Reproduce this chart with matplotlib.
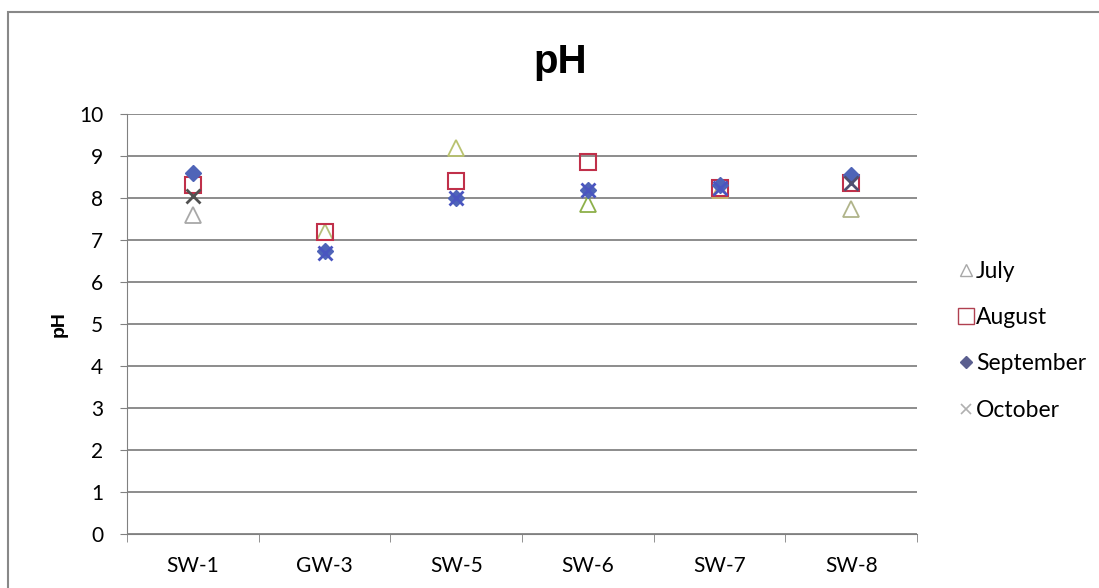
import matplotlib.pyplot as plt
from matplotlib.patches import Rectangle

# ── dados ─────────────────────────────────────────────
sites = ["SW-1", "GW-3", "SW-5", "SW-6", "SW-7", "SW-8"]
july = [7.6, 7.2, 9.2, 7.85, 8.2, 7.75]
august = [8.3, 7.2, 8.4, 8.85, 8.25, 8.35]
september = [8.6, 6.75, 8.0, 8.2, 8.3, 8.55]
october = [8.05, 6.7, 8.0, 8.2, 8.25, 8.35]

# cores por ponto (Excel "variar cores")
july_colors = ["#a8a8a8", "#b5bf7a", "#b9c26f", "#8db04a", "#c8b56a", "#b0b48a"]
october_colors = ["#505050", "#4a55c0", "#4a55c0", "#4a55c0", "#4a55c0", "#505070"]

plt.rcParams["font.family"] = ["Lato", "DejaVu Sans"]

fig = plt.figure(figsize=(10.99, 5.88), dpi=100)
ax = fig.add_axes([127 / 1099, 1 - 534 / 588, 790 / 1099, 420 / 588])

x = list(range(len(sites)))

for i, xi in enumerate(x):
    ax.plot(xi, july[i], marker="^", ms=12, mfc="none", mec=july_colors[i],
            mew=1.3, ls="none", zorder=3)
ax.plot(x, august, marker="s", ms=12, mfc="none", mec="#c0304a", mew=1.5,
        ls="none", zorder=4)
ax.plot(x, september, marker="D", ms=8.5, mfc="#4f64b8", mec="#4f64b8",
        ls="none", zorder=5)
for i, xi in enumerate(x):
    ax.plot(xi, october[i], marker="x", ms=10, mec=october_colors[i], mew=2,
            ls="none", zorder=6)

# legenda (alças manuais)
h1, = ax.plot([], [], marker="^", ms=9, mfc="none", mec="#a8a8a8", mew=1, ls="none")
h2, = ax.plot([], [], marker="s", ms=12, mfc="none", mec="#b04050", mew=1, ls="none")
h3, = ax.plot([], [], marker="D", ms=6, mfc="#5b5f8f", mec="#5b5f8f", ls="none")
h4, = ax.plot([], [], marker="x", ms=7, mec="#b0b0b0", mew=1.2, ls="none")
leg = ax.legend([h1, h2, h3, h4], ["July", "August", "September", "October"],
                loc="center left", bbox_to_anchor=(1.04, 0.46), frameon=False,
                fontsize=16.5, handlelength=0.7, handletextpad=0.1,
                labelspacing=1.1, borderaxespad=0)

ax.set_xlim(-0.5, 5.5)
ax.set_ylim(0, 10)
ax.set_yticks(range(0, 11))
ax.set_xticks(x)
ax.set_xticklabels(sites)
ax.set_xticks([i + 0.5 for i in range(-1, 6)], minor=True)
ax.tick_params(axis="x", which="major", length=0, labelsize=15, pad=16)
ax.tick_params(axis="x", which="minor", length=6, color="#808080", direction="out")
ax.tick_params(axis="y", length=5, color="#808080", labelsize=15, pad=12)

ax.grid(axis="y", color="#6e6e6e", lw=1.1)
ax.set_axisbelow(True)
for side in ["top", "right"]:
    ax.spines[side].set_visible(False)
ax.spines["left"].set_color("#808080")
ax.spines["bottom"].set_color("#808080")

ax.set_ylabel("pH", fontsize=14, fontweight="bold", family="Liberation Sans",
              labelpad=8)
fig.text(560 / 1099, 1 - 62 / 588, "pH", ha="center", va="center",
         fontsize=29, fontweight="bold", family="Liberation Sans")

# borda da área do gráfico
fig.patches.append(Rectangle((8 / 1099, -0.01), 1.1, 1 - 12 / 588 + 0.01,
                             transform=fig.transFigure, fill=False,
                             ec="#888888", lw=1.5))

fig.savefig("out.png", dpi=100)
